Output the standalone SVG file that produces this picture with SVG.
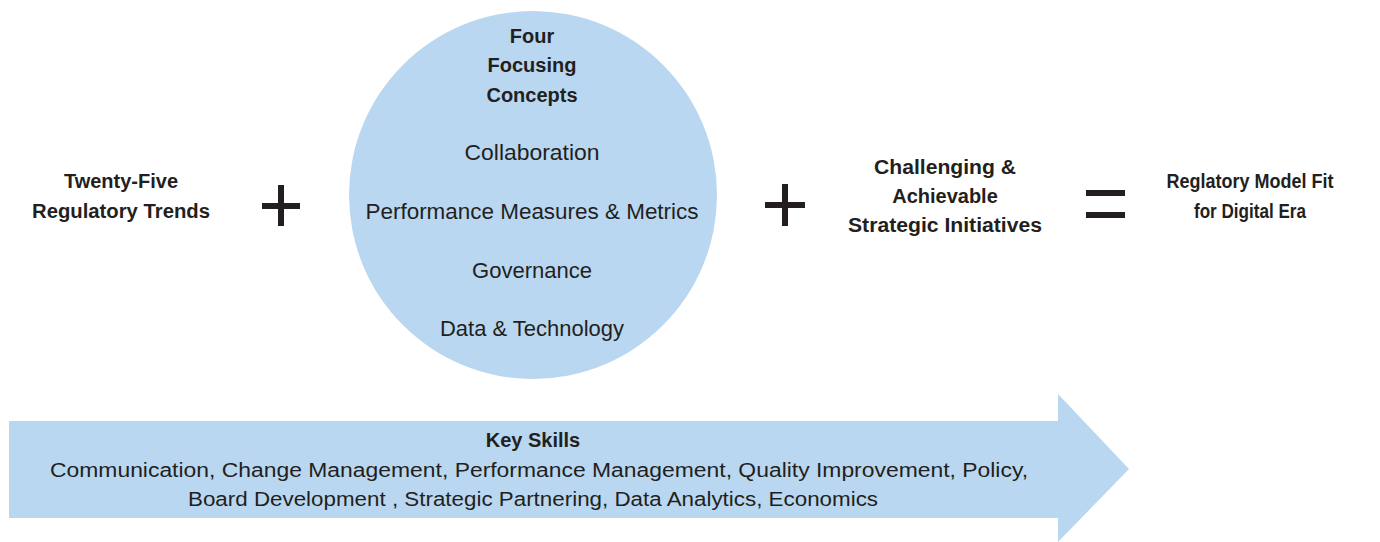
<svg xmlns="http://www.w3.org/2000/svg" width="1380" height="542" viewBox="0 0 1380 542">
  <style>
    .shape { fill: #b9d7f0; }
    .bold { font-family: "Liberation Sans", Arial, sans-serif; font-weight: bold; font-size: 20px; fill: #231f20; text-anchor: middle; }
    .reg { font-family: "Liberation Sans", Arial, sans-serif; font-size: 20px; fill: #231f20; text-anchor: middle; }
    .big { font-size: 22px; }
    .op { fill: #231f20; }
  </style>
  <rect width="1380" height="542" fill="#ffffff"/>

  <g id="trends">
    <text class="bold" x="121" y="188">Twenty-Five</text>
    <text class="bold" x="121" y="218" textLength="178" lengthAdjust="spacingAndGlyphs">Regulatory Trends</text>
  </g>

  <g id="plus-1" class="op">
    <rect x="262" y="203" width="38" height="6"/>
    <rect x="278" y="185" width="6" height="41"/>
  </g>

  <g id="concepts">
    <circle class="shape" cx="533" cy="195" r="184"/>
    <text class="bold" x="532" y="43">Four</text>
    <text class="bold" x="532" y="72">Focusing</text>
    <text class="bold" x="532" y="102">Concepts</text>
    <text class="reg big" x="532" y="160" textLength="135" lengthAdjust="spacingAndGlyphs">Collaboration</text>
    <text class="reg big" x="532" y="219" textLength="333" lengthAdjust="spacingAndGlyphs">Performance Measures &amp; Metrics</text>
    <text class="reg big" x="532" y="278" textLength="120" lengthAdjust="spacingAndGlyphs">Governance</text>
    <text class="reg big" x="532" y="336" textLength="184" lengthAdjust="spacingAndGlyphs">Data &amp; Technology</text>
  </g>

  <g id="plus-2" class="op">
    <rect x="765" y="202" width="40" height="6"/>
    <rect x="782" y="184" width="6" height="42"/>
  </g>

  <g id="initiatives">
    <text class="bold" x="945" y="174" textLength="142" lengthAdjust="spacingAndGlyphs">Challenging &amp;</text>
    <text class="bold" x="945" y="203">Achievable</text>
    <text class="bold" x="945" y="232" textLength="194" lengthAdjust="spacingAndGlyphs">Strategic Initiatives</text>
  </g>

  <g id="equals" class="op">
    <rect x="1086" y="190" width="39" height="6"/>
    <rect x="1086" y="212" width="39" height="6"/>
  </g>

  <g id="outcome">
    <text class="bold" x="1250" y="188" textLength="167" lengthAdjust="spacingAndGlyphs">Reglatory Model Fit</text>
    <text class="bold" x="1250" y="218" textLength="112" lengthAdjust="spacingAndGlyphs">for Digital Era</text>
  </g>

  <g id="key-skills">
    <polygon class="shape" points="9,421 1058,421 1058,394 1129,469 1058,542 1058,518 9,518"/>
    <text class="bold" x="533" y="447">Key Skills</text>
    <text class="reg" x="539" y="477" textLength="978" lengthAdjust="spacingAndGlyphs">Communication, Change Management, Performance Management, Quality Improvement, Policy,</text>
    <text class="reg" x="533" y="506" textLength="690" lengthAdjust="spacingAndGlyphs">Board Development , Strategic Partnering, Data Analytics, Economics</text>
  </g>
</svg>
